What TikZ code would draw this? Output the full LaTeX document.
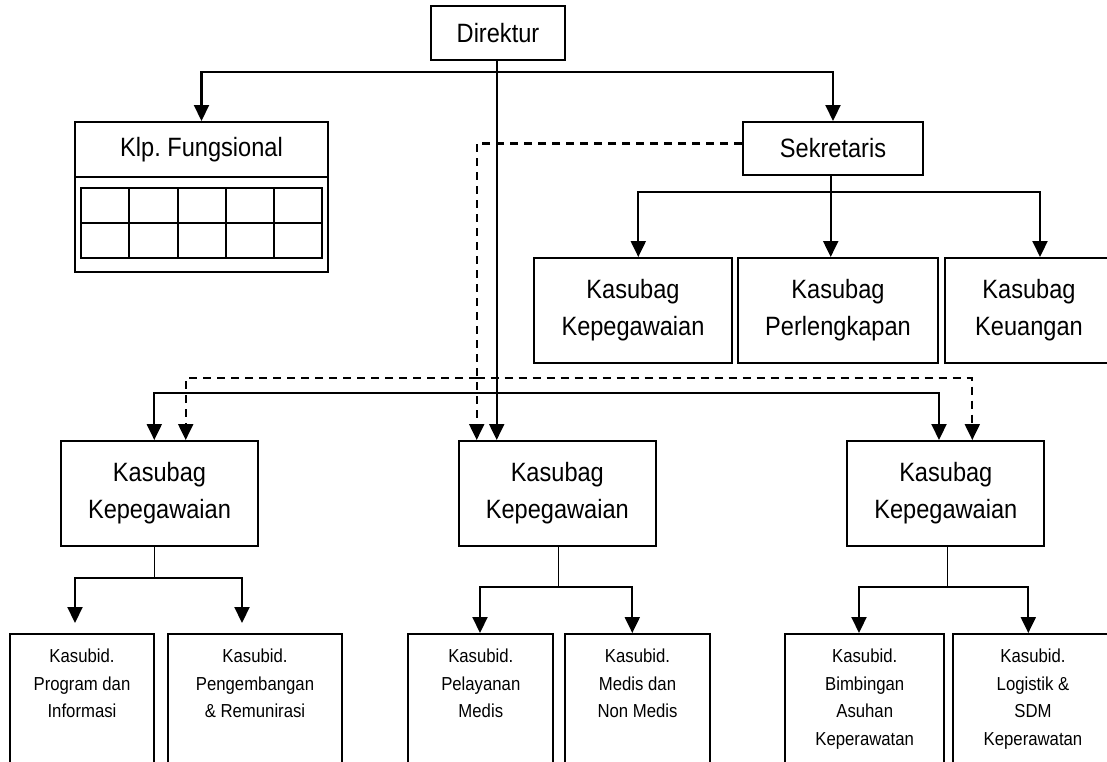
\documentclass[tikz,border=0pt]{standalone}
\usepackage{fontspec}
\setmainfont{Liberation Sans}[FakeStretch=0.89]
\usetikzlibrary{arrows.meta,positioning}
\frenchspacing

\begin{document}
\begin{tikzpicture}[x=1pt,y=-1pt]

\tikzstyle{jabatan} = [draw, line width=2, inner sep=0, align=center,
    font=\fontsize{26.5}{37}\selectfont]
\tikzstyle{judul} = [inner sep=0, font=\fontsize{26.5}{37}\selectfont]
\tikzstyle{subbox} = [draw, line width=2, anchor=north, minimum height=145]
\tikzstyle{subtext} = [inner sep=0, align=center,
    font=\fontsize{18.8}{27.5}\selectfont]
\tikzstyle{garis} = [line width=2.1, -{Triangle[width=15pt,length=16pt]}]
\tikzstyle{putus} = [garis, dash pattern=on 8pt off 6pt]
\tikzstyle{tangkai} = [line width=1.4]

\useasboundingbox (0,0) rectangle (1107,761);

% =========================
% Direktur, Klp. Fungsional, Sekretaris
% =========================
\node[jabatan, minimum width=134, minimum height=54] (dir) at (498,33) {Direktur};
\node[jabatan, minimum width=180, minimum height=53] (sek) at (833,148.5) {Sekretaris};

\node[draw, line width=2, minimum width=253, minimum height=150] (klp) at (201.5,197) {};
\node[judul] (klpjudul) at (201.5,149.5) {Klp. Fungsional};
\draw[line width=2] (klp.west |- 0,176.7) -- (klp.east |- 0,176.7);
\foreach \i in {0,...,4}
  \foreach \j in {0,1}
    \draw[line width=2] (81+\i*48.26,188+\j*35) rectangle ++(48.26,35);

% =========================
% Kasubag - first row
% =========================
\node[jabatan, minimum width=198, minimum height=105] (kpeg) at (633,310.5) {Kasubag\\Kepegawaian};
\node[jabatan, minimum width=200, minimum height=105] (kperl) at (838,310.5) {Kasubag\\Perlengkapan};
\node[jabatan, minimum width=168, minimum height=105] (kkeu) at (1029,310.5) {Kasubag\\Keuangan};

% =========================
% Kasubag - second row
% =========================
\node[jabatan, minimum width=197, minimum height=105] (kl) at (159.5,493.5) {Kasubag\\Kepegawaian};
\node[jabatan, minimum width=197, minimum height=105] (km) at (557.3,493.5) {Kasubag\\Kepegawaian};
\node[jabatan, minimum width=197, minimum height=105] (kr) at (945.8,493.5) {Kasubag\\Kepegawaian};

% =========================
% Kasubid - bottom row
% =========================
\node[subbox, minimum width=144] (b1) at (82,633) {};
\node[subtext, below=16pt of b1.north] (t1) {Kasubid.\\Program dan\\Informasi};
\node[subbox, minimum width=174] (b2) at (255,633) {};
\node[subtext, below=16pt of b2.north] (t2) {Kasubid.\\Pengembangan\\\& Remunirasi};

\node[subbox, minimum width=145] (b3) at (480.8,633) {};
\node[subtext, below=16pt of b3.north] (t3) {Kasubid.\\Pelayanan\\Medis};
\node[subbox, minimum width=145] (b4) at (637.5,633) {};
\node[subtext, below=16pt of b4.north] (t4) {Kasubid.\\Medis dan\\Non Medis};

\node[subbox, minimum width=159] (b5) at (864.7,633) {};
\node[subtext, below=16pt of b5.north] (t5) {Kasubid.\\Bimbingan\\Asuhan\\Keperawatan};
\node[subbox, minimum width=160] (b6) at (1033,633) {};
\node[subtext, below=16pt of b6.north] (t6) {Kasubid.\\Logistik \&\\SDM\\Keperawatan};

% =========================
% lines from Direktur
% =========================
\coordinate (dirbar) at (498,71.7);
\coordinate (kbar) at (496.7,393.3);
\draw[garis] (dirbar) -| (klp.north);
\draw[garis] (dirbar) -| (sek.north);
\draw[garis] ([xshift=-1.3pt]dir.south) -- ([xshift=-1.3pt]dir.south |- km.north);
\draw[garis] (kbar) -| ([xshift=-5.2pt]kl.north);
\draw[garis] (kbar) -| ([xshift=-6.8pt]kr.north);

% =========================
% lines from Sekretaris
% =========================
\coordinate (sekbar) at (830.7,191.7);
\draw[garis] ([xshift=-2.3pt]sek.south) -- ([xshift=-2.3pt]sek.south |- kperl.north);
\draw[garis] (sekbar) -| ([xshift=5.3pt]kpeg.north);
\draw[garis] (sekbar) -| ([xshift=11pt]kkeu.north);

% dashed lines
\coordinate (sbar) at (476.7,378.3);
\draw[putus] ([yshift=5pt]sek.west) -| ([xshift=-80.6pt]km.north);
\draw[putus] (sbar) -| ([xshift=26.2pt]kl.north);
\draw[putus] (sbar) -| ([xshift=26.5pt]kr.north);

% =========================
% lines to Kasubid
% =========================
\draw[tangkai] ([xshift=-5.2pt]kl.south) -- ++(0,31.3) coordinate (lbar);
\draw[garis, shorten >=10pt] (lbar) -| ([xshift=-7pt]b1.north);
\draw[garis, shorten >=10pt] (lbar) -| ([xshift=-13pt]b2.north);

\draw[tangkai] ([xshift=1.4pt]km.south) -- ++(0,40) coordinate (mbar);
\draw[garis] (mbar) -| ([xshift=-0.8pt]b3.north);
\draw[garis] (mbar) -| ([xshift=-5.2pt]b4.north);

\draw[tangkai] ([xshift=1.9pt]kr.south) -- ++(0,40) coordinate (rbar);
\draw[garis] (rbar) -| ([xshift=-5.7pt]b5.north);
\draw[garis] (rbar) -| ([xshift=-4.7pt]b6.north);

\end{tikzpicture}
\end{document}
